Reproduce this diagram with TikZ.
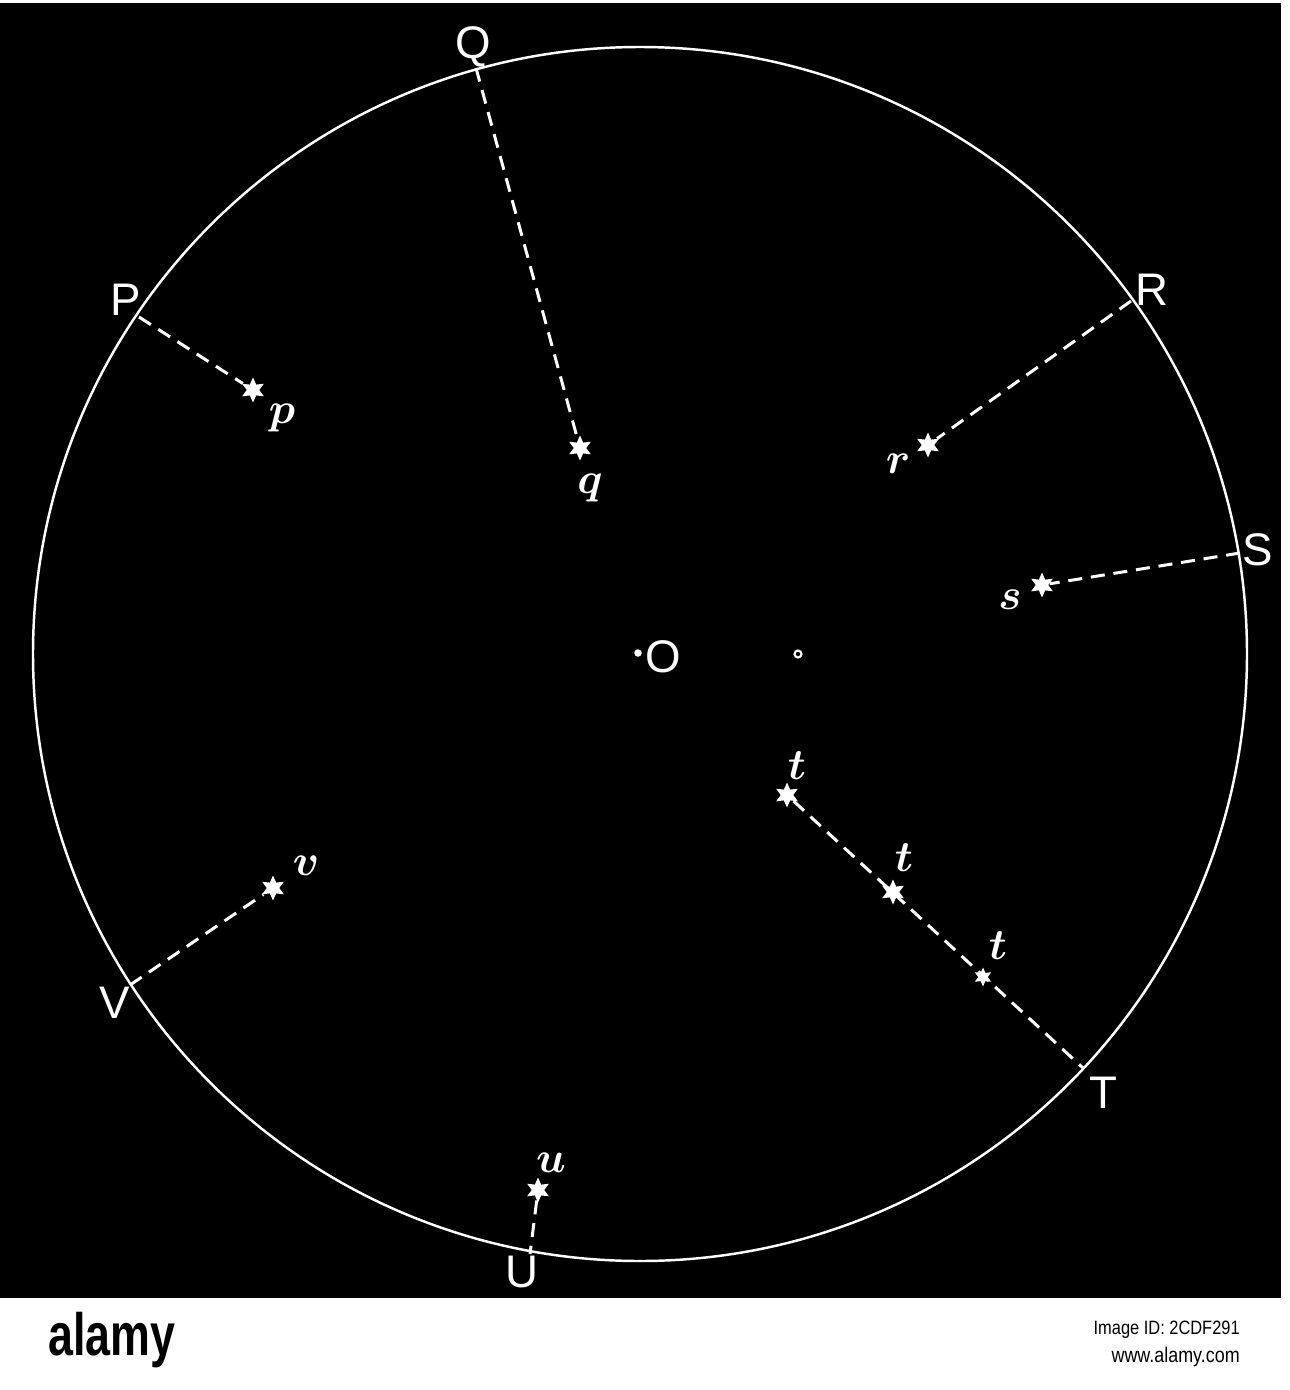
\documentclass[tikz,border=0pt]{standalone}
\usepackage{fontspec}
\setsansfont{Liberation Sans}
\usetikzlibrary{shapes.geometric}
\begin{document}
\begin{tikzpicture}[x=0.02cm,y=-0.02cm,
  caplbl/.style={text=white,font=\sffamily\fontsize{26}{26}\selectfont,inner sep=0},
  lowlbl/.style={text=white,font=\fontsize{32}{32}\selectfont\boldmath,inner sep=0},
  starmark/.style={star,star points=6,star point ratio=2.0,fill=white,draw=none,minimum size=0.5cm,inner sep=0},
  rim/.style={white,line width=1.4pt},
  dsh/.style={white,line width=1.7pt,dash pattern=on 8pt off 5pt},
  pt/.style={inner sep=0,minimum size=0}]
\useasboundingbox (0,0) rectangle (1290,1390);
\fill[white] (0,0) rectangle (1290,1390);
\fill[black] (0,3) rectangle (1281,1298);
% circle
\coordinate (C) at (640,654);
\draw[rim] (C) circle[radius=607];
% rim points
\coordinate (P) at (139,317);
\coordinate (Q) at (476,68);
\coordinate (R) at (1131,301);
\coordinate (S) at (1240,553);
\coordinate (T) at (1083,1068);
\coordinate (U) at (530,1254);
\coordinate (V) at (130,985);
% stars
\node[starmark] (p) at (253,390) {};
\node[starmark] (q) at (580,448) {};
\node[starmark] (r) at (928,445) {};
\node[starmark] (s) at (1042,585) {};
\node[starmark] (t1) at (787,795) {};
\node[starmark] (t2) at (893,892) {};
\node[starmark,minimum size=0.38cm] (t3) at (983,977) {};
\node[starmark] (u) at (538,1190) {};
\node[starmark] (v) at (273,888) {};
% dashed connectors
\draw[dsh] (P) -- (p);
\draw[dsh] (Q) -- (q);
\draw[dsh] (R) -- (r);
\draw[dsh] (S) -- (s);
\draw[dsh] (t1) -- (T);
\draw[dsh] (u) -- (U);
\draw[dsh] (V) -- (v);
% centre
\node[circle,fill=white,minimum size=0.15cm,inner sep=0] (Odot) at (638,653) {};
\node[circle,draw=white,line width=1.2pt,minimum size=0.14cm,inner sep=0] (small) at (798,654) {};
% capital labels
\node[caplbl] (lP) at (126,300) {P};
\node[caplbl] (lQ) at (473,47) {Q};
\node[caplbl] (lR) at (1152,290) {R};
\node[caplbl] (lS) at (1258,550) {S};
\node[caplbl] (lT) at (1103,1093) {T};
\node[caplbl] (lU) at (522,1272) {U};
\node[caplbl] (lV) at (115,1003) {V};
\node[caplbl] (lO) at (663,657) {O};
% lower case labels
\node[lowlbl] (lp) at (282,418) {$p$};
\node[lowlbl] (lq) at (590,488) {$q$};
\node[lowlbl] (lr) at (898,464) {$r$};
\node[lowlbl] (ls) at (1010,600) {$s$};
\node[lowlbl] (lt1) at (797,766) {$t$};
\node[lowlbl] (lt2) at (904,858) {$t$};
\node[lowlbl] (lt3) at (998,946) {$t$};
\node[lowlbl] (lu) at (551,1163) {$u$};
\node[lowlbl] (lv) at (306,866) {$v$};
% bottom strip
\node[pt,font=\sffamily\bfseries\fontsize{34}{34}\selectfont,xscale=0.75,anchor=west] (logo) at (48,1340) {alamy};
\node[pt,font=\sffamily\fontsize{11}{11}\selectfont,anchor=east,xscale=0.85] (imgid) at (1240,1330) {Image ID: 2CDF291};
\node[pt,font=\sffamily\fontsize{12}{12}\selectfont,anchor=east,xscale=0.85] (url) at (1240,1357) {www.alamy.com};
\end{tikzpicture}
\end{document}
